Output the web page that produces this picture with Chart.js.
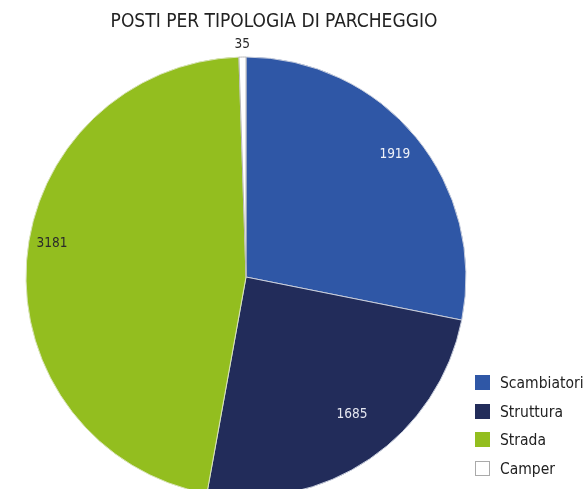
<!DOCTYPE html>
<html>
<head>
<meta charset="utf-8">
<script src="https://cdn.jsdelivr.net/npm/chart.js@4.4.1/dist/chart.umd.min.js"></script>
<style>
  html, body { margin: 0; padding: 0; background: #fff; overflow: hidden; width: 588px; height: 489px; }
  #wrap { position: relative; width: 588px; height: 489px; overflow: hidden; }
  #c { position: absolute; left: 0; top: 0; }
  #title { position: absolute; left: 0; width: 548px; top: 9px; text-align: center;
           font-family: "DejaVu Sans Condensed", "DejaVu Sans", sans-serif; font-size: 19px; color: #222; }
  #legend { position: absolute; left: 475px; top: 374px; font-family: "DejaVu Sans Condensed", "DejaVu Sans", sans-serif; font-size: 15.5px; color: #222; }
  .item { height: 28.5px; display: flex; align-items: flex-start; }
  .sw { width: 15px; height: 15px; box-sizing: border-box; margin-right: 10px; margin-top: 1px; }
</style>
</head>
<body>
<div id="wrap">
  <canvas id="c" width="588" height="554"></canvas>
  <div id="title"></div>
  <div id="legend"></div>
</div>
<script>
const titleText = "POSTI PER TIPOLOGIA DI PARCHEGGIO";
const categories = ["Scambiatori", "Struttura", "Strada", "Camper"];
const values = [1919, 1685, 3181, 35];
const colors = ["#2F57A6", "#222C5A", "#93BE1F", "#FFFFFF"];
const labelColors = ["#EEF1F8", "#E4E6F0", "#2A2A2A", "#2A2A2A"];
const labelRadii = [0.875, 0.79, 0.895, 1.055];
const labelAngleShift = [0, -0.058, 0.096, 0];

document.getElementById('title').textContent = titleText;
const leg = document.getElementById('legend');
categories.forEach((c, i) => {
  const it = document.createElement('div'); it.className = 'item';
  const sw = document.createElement('div'); sw.className = 'sw';
  sw.style.background = colors[i];
  sw.style.border = i === 3 ? '1px solid #aaa' : '1px solid ' + colors[i];
  const t = document.createElement('span'); t.textContent = c;
  it.appendChild(sw); it.appendChild(t); leg.appendChild(it);
});

const valueLabels = {
  id: 'valueLabels',
  afterDatasetsDraw(chart) {
    const ctx = chart.ctx;
    const meta = chart.getDatasetMeta(0);
    ctx.save();
    ctx.font = '13.5px "DejaVu Sans Condensed", "DejaVu Sans", sans-serif';
    ctx.textAlign = 'center';
    ctx.textBaseline = 'middle';
    meta.data.forEach((arc, i) => {
      const p = arc.getProps(['x', 'y', 'startAngle', 'endAngle', 'outerRadius'], true);
      const mid = (p.startAngle + p.endAngle) / 2 + labelAngleShift[i];
      const r = p.outerRadius * labelRadii[i];
      ctx.fillStyle = labelColors[i];
      ctx.fillText(String(chart.data.datasets[0].data[i]), p.x + Math.cos(mid) * r, p.y + Math.sin(mid) * r);
    });
    ctx.restore();
  }
};

new Chart(document.getElementById('c'), {
  type: 'pie',
  data: {
    labels: categories,
    datasets: [{
      data: values,
      backgroundColor: colors,
      borderColor: ["#C8CEDD", "#C8CEDD", "#D8E3B8", "#B8B8B8"],
      borderWidth: 1
    }]
  },
  options: {
    responsive: false,
    animation: false,
    devicePixelRatio: 1,
    radius: 220,
    layout: { padding: { left: 0, top: 0, right: 96, bottom: 0 } },
    plugins: { legend: { display: false }, title: { display: false }, tooltip: { enabled: false } }
  },
  plugins: [valueLabels]
});
</script>
</body>
</html>
